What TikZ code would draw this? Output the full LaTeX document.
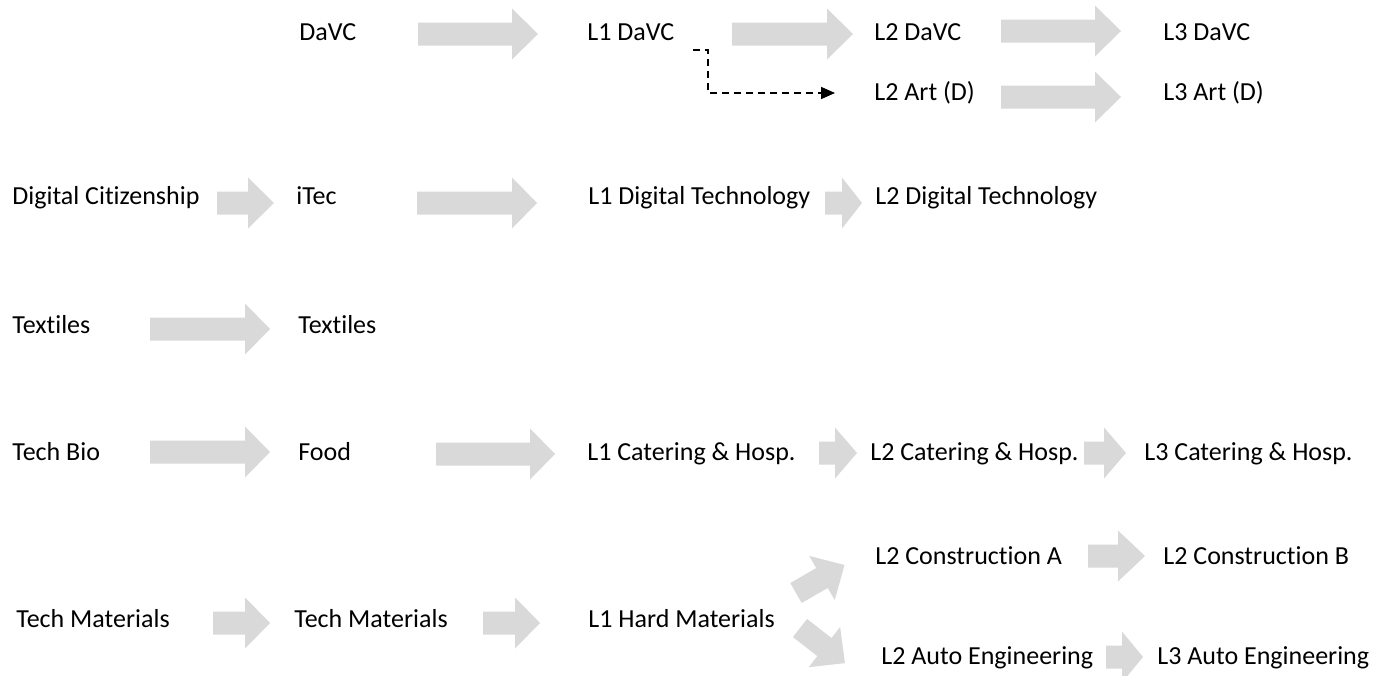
\documentclass[tikz,border=0pt]{standalone}
\usepackage{fontspec}
\setmainfont{Carlito}[Ligatures=NoCommon]
\usetikzlibrary{arrows.meta}
\definecolor{arrowgray}{HTML}{D9D9D9}
\tikzset{
  lbl/.style={anchor=base west, inner sep=0pt, font=\fontsize{13}{15}\selectfont, text=black},
  dashconn/.style={draw=black, line width=0.75pt, dash pattern=on 3.5pt off 2.5pt, -{Triangle[length=7pt,width=6pt]}},
  blockfill/.style={fill=arrowgray, draw=none}
}
% #1 tail x, #2 head base x, #3 tip x, #4 centre y
\newcommand{\blockarr}[4]{%
  \fill[blockfill] (#1,#4-11.5) -- (#2,#4-11.5) -- (#2,#4-25.5) -- (#3,#4) -- (#2,#4+25.5) -- (#2,#4+11.5) -- (#1,#4+11.5) -- cycle;}
\begin{document}
\begin{tikzpicture}[x=0.5pt,y=-0.5pt]
\useasboundingbox (0,0) rectangle (1397,675);
\fill[white] (0,0) rectangle (1397,675);

% Row 1
\node[lbl] (davc) at (299,40) {DaVC};
\node[lbl] (l1davc) at (587,40) {L1 DaVC};
\node[lbl] (l2davc) at (874,40) {L2 DaVC};
\node[lbl] (l3davc) at (1163,40) {L3 DaVC};
\blockarr{418}{512}{538}{34}
\blockarr{732}{827}{853}{34}
\blockarr{1001}{1095}{1121}{31}

% Row 2
\node[lbl] (l2art) at (874,100) {L2 Art (D)};
\node[lbl] (l3art) at (1163,100) {L3 Art (D)};
\blockarr{1001}{1095}{1121}{97}
\coordinate (ds) at (693,50);
\coordinate (dbend) at (708,50);
\coordinate (de) at (835,93);
\draw[dashconn] (ds) -- (dbend) |- (de);

% Row 3
\node[lbl] (digcit) at (12,204) {Digital Citizenship};
\node[lbl] (itec) at (296,204) {iTec};
\node[lbl] (l1dt) at (588,204) {L1 Digital Technology};
\node[lbl] (l2dt) at (875,204) {L2 Digital Technology};
\blockarr{217}{248}{274}{203}
\blockarr{417}{512}{537}{203}
\blockarr{825}{842}{862}{203}

% Row 4
\node[lbl] (tex1) at (12,333) {Textiles};
\node[lbl] (tex2) at (298,333) {Textiles};
\blockarr{150}{245}{270}{329}

% Row 5
\node[lbl] (techbio) at (12,460) {Tech Bio};
\node[lbl] (food) at (298,460) {Food};
\node[lbl] (l1cat) at (587,460) {L1 Catering \& Hosp.};
\node[lbl] (l2cat) at (870,460) {L2 Catering \& Hosp.};
\node[lbl] (l3cat) at (1144,460) {L3 Catering \& Hosp.};
\blockarr{150}{245}{270}{452}
\blockarr{436}{530}{555}{454}
\blockarr{819}{835}{857}{453}
\blockarr{1084}{1104}{1126}{453}

% Row 6
\node[lbl] (tm1) at (16,627) {Tech Materials};
\node[lbl] (tm2) at (294,627) {Tech Materials};
\node[lbl] (l1hard) at (588,627) {L1 Hard Materials};
\node[lbl] (l2consa) at (875,564) {L2 Construction A};
\node[lbl] (l2consb) at (1163,564) {L2 Construction B};
\node[lbl] (l2auto) at (881,664) {L2 Auto Engineering};
\node[lbl] (l3auto) at (1157,664) {L3 Auto Engineering};
\blockarr{213}{245}{270}{623}
\blockarr{483}{515}{540}{623}
\blockarr{1088}{1118}{1145}{556}
\blockarr{1106}{1122}{1143}{657}
\begin{scope}[shift={(796,593)},rotate=30]
  \blockarr{0}{30}{56}{0}
\end{scope}
\begin{scope}[shift={(800,628)},rotate=-38]
  \blockarr{0}{31}{57}{0}
\end{scope}
\end{tikzpicture}
\end{document}
